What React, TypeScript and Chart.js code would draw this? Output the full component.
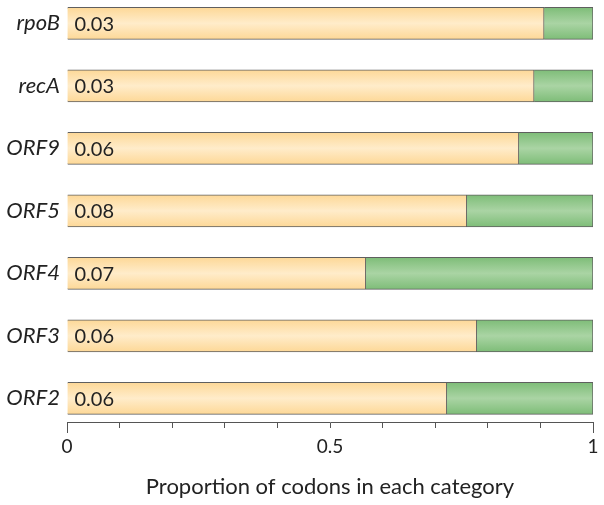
import React, { useEffect, useRef } from "react";
import { Chart, registerables } from "chart.js";

Chart.register(...registerables);

const categories = ["rpoB", "recA", "ORF9", "ORF5", "ORF4", "ORF3", "ORF2"];
const firstCategory = [0.907, 0.888, 0.859, 0.76, 0.568, 0.779, 0.722];
const secondCategory = firstCategory.map((v) => +(1 - v).toFixed(3));
const barLabels = ["0.03", "0.03", "0.06", "0.08", "0.07", "0.06", "0.06"];
const xTickLabels: Record<string, string> = { "0": "0", "0.5": "0.5", "1": "1" };
const xEndTicks = [0, 1];

const FONT = "Lato, 'Open Sans', sans-serif";
const AXIS_COLOR = "#555";

function gradient(chart: any, yVal: number, edge: string, mid: string) {
  const ys = chart.scales?.y;
  if (!ys) return edge;
  const yc = ys.getPixelForValue(yVal);
  if (!Number.isFinite(yc)) return edge;
  const g = chart.ctx.createLinearGradient(0, yc - 16, 0, yc + 16);
  g.addColorStop(0, edge);
  g.addColorStop(0.5, mid);
  g.addColorStop(1, edge);
  return g;
}

const valueLabelPlugin = {
  id: "valueLabels",
  afterDatasetsDraw(chart: any) {
    const meta = chart.getDatasetMeta(0);
    const ctx = chart.ctx;
    ctx.save();
    ctx.font = `20px ${FONT}`;
    ctx.fillStyle = "#222";
    ctx.textBaseline = "middle";
    ctx.textAlign = "left";
    meta.data.forEach((el: any, i: number) => {
      const left = Math.min(el.base, el.x);
      ctx.fillText(barLabels[i], left + 7, el.y + 1);
    });
    ctx.restore();
  },
  afterDraw(chart: any) {
    const xs = chart.scales.x;
    const ctx = chart.ctx;
    ctx.save();
    ctx.strokeStyle = AXIS_COLOR;
    ctx.lineWidth = 1;
    xEndTicks.forEach((v) => {
      const px = Math.round(xs.getPixelForValue(v)) + 0.5;
      ctx.beginPath();
      ctx.moveTo(px, xs.top);
      ctx.lineTo(px, xs.top + 11);
      ctx.stroke();
    });
    ctx.restore();
  },
};

export default function App() {
  const ref = useRef<HTMLCanvasElement>(null);
  useEffect(() => {
    if (!ref.current) return;
    const chart = new Chart(ref.current, {
      type: "bar",
      data: {
        datasets: [
          {
            label: "first",
            data: categories.map((_, i) => ({ x: firstCategory[i], y: i })),
            backgroundColor: (c: any) =>
              gradient(c.chart, c.parsed ? c.parsed.y : NaN, "#FDD897", "#FFECCA"),
            borderColor: "#5f5f5f",
            borderWidth: 1,
            barThickness: 32,
          },
          {
            label: "second",
            data: categories.map((_, i) => ({ x: secondCategory[i], y: i })),
            backgroundColor: (c: any) =>
              gradient(c.chart, c.parsed ? c.parsed.y : NaN, "#7EBD78", "#AAD4A4"),
            borderColor: "#5f5f5f",
            borderWidth: 1,
            barThickness: 32,
          },
        ],
      },
      options: {
        indexAxis: "y",
        responsive: false,
        animation: false,
        layout: { autoPadding: false, padding: { left: 0, right: 11, top: 0, bottom: 0 } },
        plugins: { legend: { display: false }, tooltip: { enabled: false } },
        scales: {
          x: {
            type: "linear",
            stacked: true,
            min: 0,
            max: 1,
            ticks: {
              stepSize: 0.1,
              autoSkip: false,
              maxRotation: 0,
              padding: 7,
              color: "#222",
              font: { family: FONT, size: 19 },
              callback: (v: any) => {
                const k = String(Math.round(Number(v) * 10) / 10);
                return xTickLabels[k] ?? "";
              },
            },
            grid: {
              display: true,
              drawOnChartArea: false,
              drawTicks: true,
              tickLength: 6,
              color: AXIS_COLOR,
            },
            border: { display: true, color: AXIS_COLOR, width: 1 },
            title: {
              display: true,
              text: "Proportion of codons in each category",
              color: "#222",
              font: { family: FONT, size: 22 },
              padding: { top: 0, bottom: 5 },
            },
            afterFit: (s: any) => {
              s.height = 83;
              s.paddingLeft = 0;
              s.paddingRight = 0;
            },
          },
          y: {
            type: "linear",
            stacked: true,
            reverse: true,
            offset: false,
            min: -0.373,
            max: 6.379,
            afterBuildTicks: (s: any) => {
              s.ticks = categories.map((_, i) => ({ value: i }));
            },
            ticks: {
              padding: 7,
              color: "#222",
              font: { family: FONT, size: 22, style: "italic" },
              callback: (v: any) => categories[Number(v)] ?? "",
            },
            grid: { display: false, drawTicks: false },
            border: { display: false },
            afterFit: (s: any) => {
              s.width = 67;
              s.paddingTop = 0;
              s.paddingBottom = 0;
            },
          },
        },
      },
      plugins: [valueLabelPlugin],
    } as any);
    return () => chart.destroy();
  }, []);
  return (
    <div style={{ position: "fixed", left: 0, top: 0, width: 604, height: 505, background: "#fff" }}>
      <canvas ref={ref} width={604} height={505} />
    </div>
  );
}
